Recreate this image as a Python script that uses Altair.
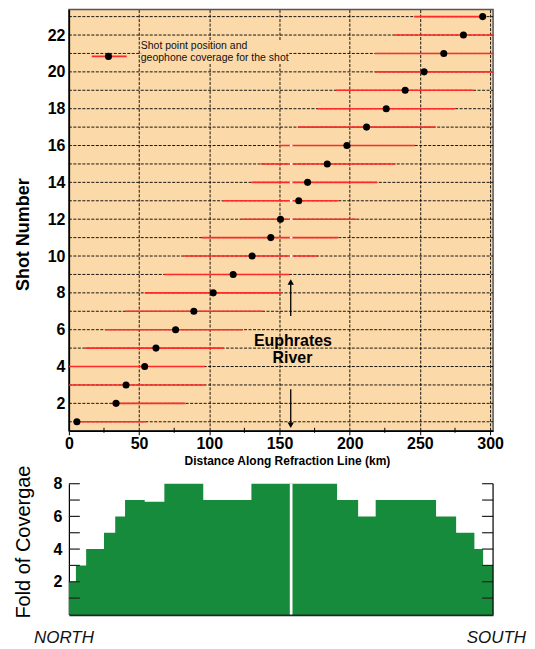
import altair as alt
import pandas as pd

# ---------------- data ----------------
shots = list(range(1, 24))
shot_km = [5.7, 33.6, 40.7, 54, 62, 76, 89, 102.8, 117, 130.5, 143.8, 150.7,
           163.7, 170, 184, 198, 212, 226, 239.5, 253, 267, 281, 294.7]
cov_start = [5.7, 30.6, 0, 0, 11.6, 25.8, 40, 54, 68, 82, 94.5, 123,
             109.5, 130, 136.7, 150, 163, 177, 190, 218, 218, 232, 246]
cov_end = [55, 83, 97, 97, 110, 124, 138, 151.5, 157, 177.5, 191.7, 204.7,
           192, 219.6, 232.6, 246.6, 261, 275, 288, 302.1, 302.1, 302.1, 294.7]

x_ticks = [0, 50, 100, 150, 200, 250, 300]
x_minor = [25, 75, 125, 175, 225, 275]
y_labels = [2, 4, 6, 8, 10, 12, 14, 16, 18, 20, 22]
river_gap = [157.4, 159.2]

fold_x = [0, 5, 12.3, 25, 33, 40, 54, 68, 95.7, 130, 191, 206, 218.5,
          261.5, 275.8, 288.8, 295, 302.1]
fold_v = [2, 3, 4, 5, 6, 7, 6.9, 8, 7, 8, 7, 6, 7, 6, 5, 4, 3, 3]
fold_ticks = [1, 2, 3, 4, 5, 6, 7, 8]
fold_labels = [2, 4, 6, 8]

legend_line = {"x": [16.3], "x2": [41.2], "y": [20.84]}
legend_dot = {"x": [28.2], "y": [20.84]}
legend_text = {"x": [51.2, 51.2], "y": [21.38, 20.73],
               "t": ["Shot point position and", "geophone coverage for the shot"]}
legend_mask = {"x": [51.5], "x2": [157.0], "y": [20.45], "y2": [21.7]}

river_text = {"x": [159.6, 159.2], "y": [5.40, 4.47], "t": ["Euphrates", "River"]}
arrow_up = {"x": [158], "y": [6.75], "y2": [8.48], "head": [8.59]}
arrow_down = {"x": [158], "y": [2.77], "y2": [0.95], "head": [0.81]}

dir_text = {"x": [-3.5, 304.5], "y": [-1.47, -1.47], "t": ["NORTH", "SOUTH"]}

# ---------------- styles ----------------
W = 425
H1 = 422
H2 = 131
XMAX = 302.1
BG = "#FCD9A8"
RED = "#FF2B2B"
GREEN = "#168B3B"
FONT = "Liberation Sans"
DASH = [3, 1.5]

xs = alt.Scale(domain=[0, XMAX], nice=False, zero=False)
ys = alt.Scale(domain=[0.51, 23.38], nice=False, zero=False)
fs = alt.Scale(domain=[0, 8], nice=False, zero=False)

df = pd.DataFrame({"shot": shots, "km": shot_km, "start": cov_start, "end": cov_end})

x_axis = alt.Axis(values=x_ticks, grid=True, gridDash=DASH, gridColor="black",
                  gridWidth=1, gridOpacity=0.9, domainColor="black", domainWidth=1.5,
                  tickColor="black", tickSize=4, labelFontSize=16, labelFontWeight="bold",
                  labelPadding=1, labelColor="black", labelFlush=False, labelOverlap=False,
                  title="Distance Along Refraction Line (km)", titleFontSize=12,
                  titleFontWeight="bold", titleColor="black", titleX=218.5, titleY=30,
                  titleBaseline="middle", titleAlign="center")
y_axis = alt.Axis(values=y_labels, grid=False, domainColor="black", domainWidth=1.5,
                  ticks=False, labelFontSize=16, labelFontWeight="bold", labelPadding=4,
                  labelColor="black", labelOverlap=False, labelFlush=False,
                  title="Shot Number", titleFontSize=18,
                  titleFontWeight="bold", titleColor="black", titleX=-45, titleY=225,
                  titleBaseline="middle", titleAlign="center")

base = alt.Chart(df)

hgrid = base.mark_rule(color="black", strokeWidth=1, strokeDash=DASH, opacity=0.9).encode(
    x=alt.datum(0, scale=xs, axis=x_axis), x2=alt.datum(XMAX),
    y=alt.Y("shot:Q", scale=ys, axis=y_axis),
)

red_lines = base.mark_rule(color=RED, strokeWidth=1.6).encode(
    x=alt.X("start:Q", scale=xs), x2="end:Q", y=alt.Y("shot:Q", scale=ys))

gaps = base.transform_filter(
    (alt.datum.start < river_gap[0]) & (alt.datum.end > river_gap[1])
).transform_calculate(g0=str(river_gap[0]), g1=str(river_gap[1])).mark_rule(
    color="white", strokeWidth=2).encode(
    x=alt.X("g0:Q", scale=xs), x2="g1:Q", y=alt.Y("shot:Q", scale=ys))

dots = base.mark_circle(size=50, color="black", opacity=1).encode(
    x=alt.X("km:Q", scale=xs), y=alt.Y("shot:Q", scale=ys))

minor = alt.Chart(pd.DataFrame({"x": x_minor})).mark_rule(color="black", strokeWidth=1).encode(
    x=alt.X("x:Q", scale=xs), y=alt.value(H1 + 2), y2=alt.value(H1 - 3))

mask = alt.Chart(pd.DataFrame(legend_mask)).mark_rect(color=BG).encode(
    x=alt.X("x:Q", scale=xs), x2="x2:Q", y=alt.Y("y:Q", scale=ys), y2="y2:Q")

leg_line = alt.Chart(pd.DataFrame(legend_line)).mark_rule(color=RED, strokeWidth=1.6).encode(
    x=alt.X("x:Q", scale=xs), x2="x2:Q", y=alt.Y("y:Q", scale=ys))
leg_dot = alt.Chart(pd.DataFrame(legend_dot)).mark_circle(size=50, color="black", opacity=1).encode(
    x=alt.X("x:Q", scale=xs), y=alt.Y("y:Q", scale=ys))
leg_text = alt.Chart(pd.DataFrame(legend_text)).mark_text(
    align="left", baseline="middle", fontSize=10.5, color="#111", font=FONT).encode(
    x=alt.X("x:Q", scale=xs), y=alt.Y("y:Q", scale=ys), text="t:N")

riv_text = alt.Chart(pd.DataFrame(river_text)).mark_text(
    align="center", baseline="middle", fontSize=16, fontWeight="bold", color="black",
    font=FONT).encode(x=alt.X("x:Q", scale=xs), y=alt.Y("y:Q", scale=ys), text="t:N")

up_df = pd.DataFrame(arrow_up)
dn_df = pd.DataFrame(arrow_down)
up_shaft = alt.Chart(up_df).mark_rule(color="black", strokeWidth=1.3).encode(
    x=alt.X("x:Q", scale=xs), y=alt.Y("y:Q", scale=ys), y2="y2:Q")
up_head = alt.Chart(up_df).mark_point(shape="triangle-up", size=40, filled=True,
                                      color="black", opacity=1).encode(
    x=alt.X("x:Q", scale=xs), y=alt.Y("head:Q", scale=ys))
dn_shaft = alt.Chart(dn_df).mark_rule(color="black", strokeWidth=1.3).encode(
    x=alt.X("x:Q", scale=xs), y=alt.Y("y:Q", scale=ys), y2="y2:Q")
dn_head = alt.Chart(dn_df).mark_point(shape="triangle-down", size=40, filled=True,
                                      color="black", opacity=1).encode(
    x=alt.X("x:Q", scale=xs), y=alt.Y("head:Q", scale=ys))

top = alt.layer(hgrid, red_lines, gaps, dots, minor, mask, leg_line, leg_dot,
                leg_text, riv_text, up_shaft, up_head, dn_shaft, dn_head).properties(
    width=W, height=H1,
    view=alt.ViewBackground(fill=BG, stroke="#555555", strokeWidth=1.5))

# ---------------- bottom chart ----------------
fold_df = pd.DataFrame({"x": fold_x, "v": fold_v})
area = alt.Chart(fold_df).mark_area(interpolate="step-after", color=GREEN, opacity=1).encode(
    x=alt.X("x:Q", scale=xs, axis=alt.Axis(labels=False, ticks=False, title=None, grid=False,
                                           domainColor="#1b2a1b", domainWidth=2.5)),
    y=alt.Y("v:Q", scale=fs, axis=alt.Axis(values=fold_labels, ticks=False, grid=False,
                                           labelFontSize=16, labelFontWeight="bold",
                                           labelPadding=7, labelColor="black",
                                           labelOverlap=False, labelFlush=False,
                                           domainColor="black", domainWidth=1.2,
                                           title="Fold of Covergae", titleFontSize=20,
                                           titleFontWeight="normal", titleColor="black",
                                           titleX=-45, titleY=58, titleBaseline="middle",
                                           titleAlign="center")),
)

river_line = alt.Chart(pd.DataFrame({"x": [sum(river_gap) / 2], "y0": [0], "y1": [8]})).mark_rule(
    color="white", strokeWidth=2.7).encode(
    x=alt.X("x:Q", scale=xs), y=alt.Y("y0:Q", scale=fs), y2="y1:Q")

tick_df = pd.DataFrame({"v": fold_ticks})
left_ticks = alt.Chart(tick_df).mark_rule(color="#222", strokeWidth=1.2).encode(
    x=alt.datum(0, scale=xs), x2=alt.datum(7.8), y=alt.Y("v:Q", scale=fs))
right_ticks = alt.Chart(tick_df).mark_rule(color="#222", strokeWidth=1.2).encode(
    x=alt.datum(XMAX - 7.8, scale=xs), x2=alt.datum(XMAX), y=alt.Y("v:Q", scale=fs))
right_line = alt.Chart(pd.DataFrame({"x": [XMAX], "y0": [0], "y1": [8]})).mark_rule(
    color="black", strokeWidth=1.2).encode(
    x=alt.X("x:Q", scale=xs), y=alt.Y("y0:Q", scale=fs), y2="y1:Q")

dirs = alt.Chart(pd.DataFrame(dir_text)).mark_text(
    align="center", baseline="middle", fontSize=17, fontStyle="italic", color="#111",
    font=FONT).encode(x=alt.X("x:Q", scale=xs), y=alt.Y("y:Q", scale=fs), text="t:N")

bottom = alt.layer(area, river_line, left_ticks, right_ticks, right_line, dirs).properties(
    width=W, height=H2, view=alt.ViewBackground(stroke=None, fill="white"))

chart = alt.vconcat(top, bottom, spacing=53, bounds="flush").properties(
    padding={"left": 5, "top": 0, "right": 0, "bottom": 3},
    background="white",
).configure(font=FONT)

chart.save("out.html", embed_options={"renderer": "svg", "actions": False})
